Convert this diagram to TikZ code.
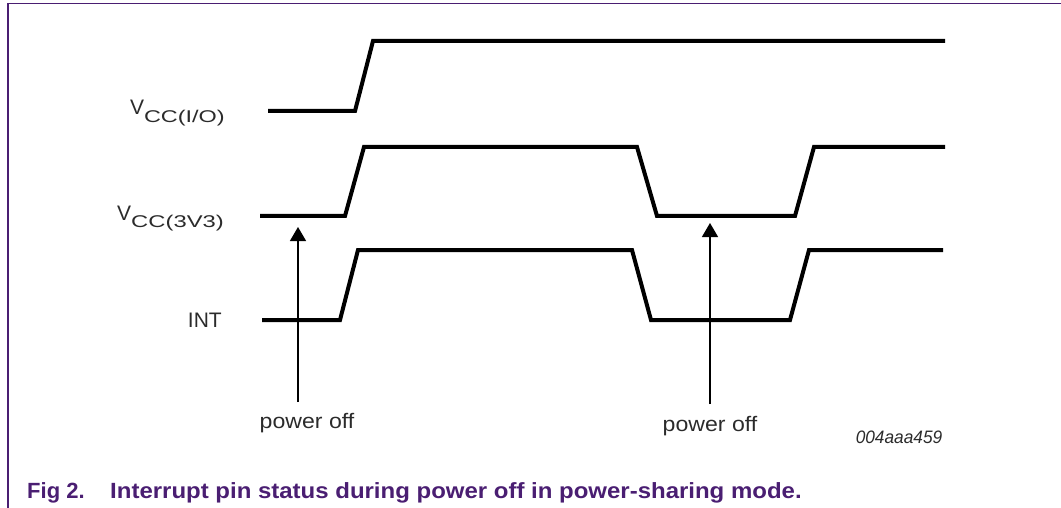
\documentclass[tikz,border=0pt]{standalone}
\usepackage{fontspec}
\setmainfont{Liberation Sans}
\usetikzlibrary{arrows.meta}
\definecolor{nxppurple}{HTML}{4A1E72}
\definecolor{lbl}{HTML}{2B2B2B}
\tikzset{
  sig/.style={line width=4pt, line join=miter, line cap=butt},
  pointer/.style={line width=1.4pt, -{Triangle[length=14pt,width=16pt]}},
  siglabel/.style={anchor=base east, inner sep=0pt, text=lbl, font=\fontsize{21}{24}\selectfont},
  offlabel/.style={anchor=base, inner sep=0pt, text=lbl, xscale=1.1, font=\fontsize{21}{24}\selectfont},
}
\newcommand{\vsub}[2]{V\raisebox{-8pt}{\scalebox{#1}[1]{\fontsize{17}{20}\selectfont #2}}}
\begin{document}
\begin{tikzpicture}[x=1pt,y=-1pt]
\useasboundingbox (0,0) rectangle (1061,508);
% frame
\draw[nxppurple, line width=1.5pt] (8,508) -- (8,3.5) -- (1061,3.5);
% signals
\draw[sig] (268,111) -- (355,111) -- (373,41) -- (945,41);
\draw[sig] (260,216) -- (345,216) -- (364,147) -- (637,147) -- (657,216) -- (795,216) -- (814,147) -- (945,147);
\draw[sig] (262,320) -- (340,320) -- (358,250) -- (632,250) -- (651,320) -- (790,320) -- (809,250) -- (943,250);
% labels
\node[siglabel] (vio) at (225,115) {\vsub{1.38}{CC(I/O)}};
\node[siglabel] (v33) at (224,220) {\vsub{1.4}{CC(3V3)}};
\node[siglabel] (int) at (222,327) {INT};
% pointers
\coordinate (p1s) at (298,402);
\coordinate (p1e) at (298,227);
\coordinate (p2s) at (710,404);
\coordinate (p2e) at (710,223);
\draw[pointer] (p1s) -- (p1e);
\draw[pointer] (p2s) -- (p2e);
\node[offlabel] (off1) at (307,428) {power off};
\node[offlabel] (off2) at (710,431) {power off};
\node[anchor=base, inner sep=0pt, text=lbl, xscale=0.96, font=\fontsize{18}{20}\selectfont\itshape] (code) at (899,443) {004aaa459};
% caption
\node[anchor=base west, inner sep=0pt, text=nxppurple, font=\fontsize{22}{24}\selectfont\bfseries] (fig) at (27,498) {Fig 2.};
\node[anchor=base west, inner sep=0pt, text=nxppurple, xscale=1.09, font=\fontsize{22}{24}\selectfont\bfseries] (cap) at (110,498) {Interrupt pin status during power off in power-sharing mode.};
\end{tikzpicture}
\end{document}
